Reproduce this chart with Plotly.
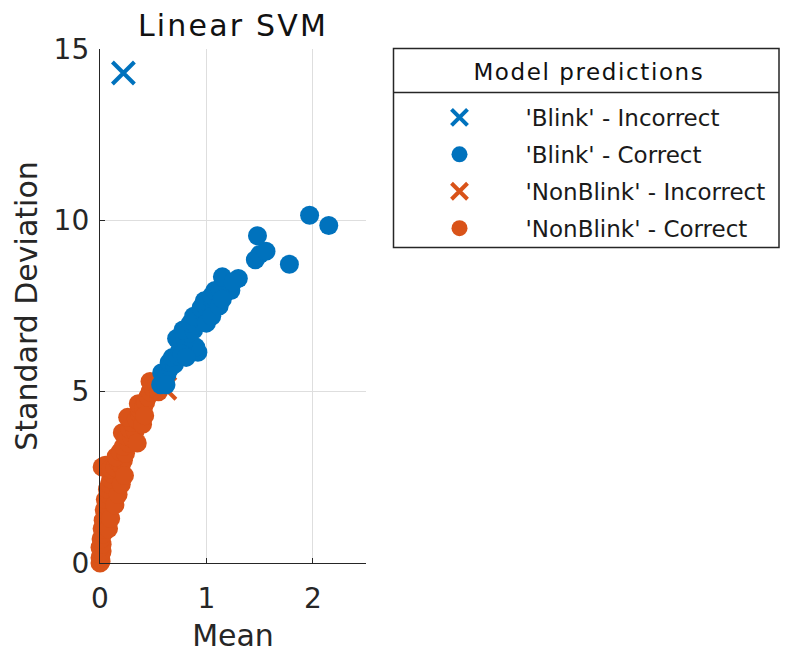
import plotly.graph_objects as go

# Feature space: mean and standard deviation of each signal window
blink_correct_mean = [0.57, 0.60, 0.58, 0.63, 0.66, 0.65, 0.70, 0.68, 0.73, 0.75, 0.85, 0.92,
                      0.90, 0.78, 0.72, 0.80, 0.83, 0.78, 0.88, 0.85, 0.90, 0.93, 0.88, 0.97,
                      0.95, 1.00, 1.02, 0.98, 1.06, 1.05, 1.10, 1.08, 1.13, 1.18, 1.15, 1.20,
                      1.23, 1.15, 1.30, 1.25, 1.46, 1.50, 1.56, 1.48, 1.78, 1.97, 2.15,
                      1.00, 1.05, 1.12, 1.15, 0.62, 0.77, 0.81]
blink_correct_std = [5.20, 5.35, 5.55, 5.50, 5.70, 5.85, 5.80, 6.00, 6.05, 6.20, 6.20, 6.15,
                     6.30, 6.35, 6.55, 6.50, 6.70, 6.80, 6.80, 7.00, 6.95, 7.15, 7.20, 7.30,
                     7.45, 7.45, 7.60, 7.65, 7.65, 7.80, 7.85, 7.95, 7.95, 7.90, 8.10, 8.05,
                     7.95, 8.35, 8.30, 8.20, 8.85, 9.00, 9.10, 9.55, 8.72, 10.15, 9.85,
                     7.00, 7.20, 7.50, 7.70, 5.20, 6.10, 6.00]

blink_incorrect_mean = [0.22]
blink_incorrect_std = [14.3]

nonblink_correct_mean = [0.00, 0.01, 0.00, 0.01, 0.02, 0.00, 0.02, 0.01, 0.03, 0.02, 0.04, 0.03,
                         0.05, 0.04, 0.06, 0.05, 0.08, 0.07, 0.09, 0.10, 0.12, 0.02, 0.05, 0.10,
                         0.14, 0.17, 0.20, 0.22, 0.15, 0.19, 0.24, 0.22, 0.27, 0.21, 0.25, 0.30,
                         0.28, 0.33, 0.30, 0.26, 0.34, 0.37, 0.37, 0.36, 0.41, 0.43, 0.45, 0.47,
                         0.50, 0.47, 0.53, 0.55,
                         0.08, 0.10, 0.14, 0.17, 0.20, 0.23, 0.35, 0.40, 0.42]
nonblink_correct_std = [0.00, 0.05, 0.15, 0.25, 0.35, 0.45, 0.55, 0.70, 0.85, 1.00, 1.10, 1.25,
                        1.40, 1.55, 1.70, 1.85, 2.00, 2.15, 2.30, 2.45, 2.60, 2.80, 2.85, 2.75,
                        2.80, 2.95, 2.85, 3.00, 3.10, 3.25, 3.20, 3.40, 3.50, 3.80, 3.70, 3.65,
                        3.90, 3.85, 4.10, 4.25, 4.20, 4.35, 4.50, 4.65, 4.55, 4.70, 4.85, 5.00,
                        5.10, 5.30, 5.20, 5.00,
                        1.00, 1.30, 1.70, 2.00, 2.30, 2.55, 3.50, 4.05, 4.30]

nonblink_incorrect_mean = [0.61]
nonblink_incorrect_std = [5.1]

BLUE = "#0072BD"
ORANGE = "#D95319"
AXIS = "#262626"
FONT = "DejaVu Sans"

# Plot area in pixels (used for the legend frame placed in paper coordinates)
W, H = 787, 665
ML, MR, MT, MB = 100, 421, 49, 102
PW, PH = W - ML - MR, H - MT - MB


def px_x(p):
    return (p - ML) / PW


def px_y(p):
    return (H - MB - p) / PH


fig = go.Figure()

fig.add_trace(go.Scatter(
    x=nonblink_correct_mean, y=nonblink_correct_std, mode="markers",
    name="'NonBlink' - Correct", legendrank=4, legendgroup="d", cliponaxis=False,
    marker=dict(symbol="circle", size=19, color=ORANGE, line=dict(width=0)),
))
fig.add_trace(go.Scatter(
    x=nonblink_incorrect_mean, y=nonblink_incorrect_std, mode="markers",
    name="'NonBlink' - Incorrect", legendrank=3, legendgroup="c", cliponaxis=False,
    marker=dict(symbol="x-thin", size=22, color=ORANGE, line=dict(width=4, color=ORANGE)),
))
fig.add_trace(go.Scatter(
    x=blink_correct_mean, y=blink_correct_std, mode="markers",
    name="'Blink' - Correct", legendrank=2, legendgroup="b", cliponaxis=False,
    marker=dict(symbol="circle", size=19, color=BLUE, line=dict(width=0)),
))
fig.add_trace(go.Scatter(
    x=blink_incorrect_mean, y=blink_incorrect_std, mode="markers",
    name="'Blink' - Incorrect", legendrank=1, legendgroup="a", cliponaxis=False,
    marker=dict(symbol="x-thin", size=22, color=BLUE, line=dict(width=4, color=BLUE)),
))

# Legend frame with a header row
frame = dict(xref="paper", yref="paper", line=dict(color=AXIS, width=1.5), layer="above")
shapes = [
    dict(type="rect", x0=px_x(393.5), x1=px_x(779), y0=px_y(247.5), y1=px_y(48.5),
         fillcolor="rgba(0,0,0,0)", **frame),
    dict(type="line", x0=px_x(393.5), x1=px_x(779), y0=px_y(92.5), y1=px_y(92.5), **frame),
]

fig.update_layout(
    width=W, height=H,
    margin=dict(l=ML, r=MR, t=MT, b=MB),
    paper_bgcolor="white", plot_bgcolor="white",
    font=dict(family=FONT, color=AXIS),
    title=dict(text="Linear SVM", x=0.5, xanchor="center", xref="paper",
               y=1 - 25 / H, yanchor="middle", yref="container",
               font=dict(size=30, color="#111111")),
    xaxis=dict(range=[0, 2.5], tickvals=[0, 1, 2], showgrid=True, gridcolor="#dedede",
               gridwidth=1, zeroline=False, showline=True, linecolor=AXIS, linewidth=1.3,
               ticks="inside", ticklen=5, tickcolor=AXIS, tickfont=dict(size=28, color=AXIS),
               ticklabelstandoff=10,
               title=dict(text="Mean", font=dict(size=30, color=AXIS), standoff=11)),
    yaxis=dict(range=[0, 15], tickvals=[0, 5, 10, 15], showgrid=True, gridcolor="#dedede",
               gridwidth=1, zeroline=False, showline=True, linecolor=AXIS, linewidth=1.3,
               ticks="inside", ticklen=5, tickcolor=AXIS, tickfont=dict(size=28, color=AXIS),
               ticklabelstandoff=4,
               title=dict(text="Standard Deviation", font=dict(size=30, color=AXIS), standoff=7)),
    legend=dict(x=px_x(393.5), xanchor="left", y=px_y(96), yanchor="top",
                borderwidth=0, bgcolor="rgba(0,0,0,0)",
                font=dict(size=23, color="#1a1a1a"), itemsizing="trace", itemwidth=122,
                traceorder="grouped", tracegroupgap=4),
    shapes=shapes,
    annotations=[dict(text="Model predictions", xref="paper", yref="paper",
                      x=px_x(589), y=px_y(72), xanchor="center", yanchor="middle",
                      showarrow=False, font=dict(size=23, color="#111111", family=FONT))],
)

# Slightly open tracking on the two headings
spacing_js = """
var gd = document.getElementById('{plot_id}');
gd.querySelectorAll('.gtitle').forEach(function(t) { t.style.letterSpacing = '2.2px'; });
gd.querySelectorAll('.annotation-text').forEach(function(t) { t.style.letterSpacing = '1.6px'; });
"""

fig.write_html("out.html", post_script=spacing_js)
